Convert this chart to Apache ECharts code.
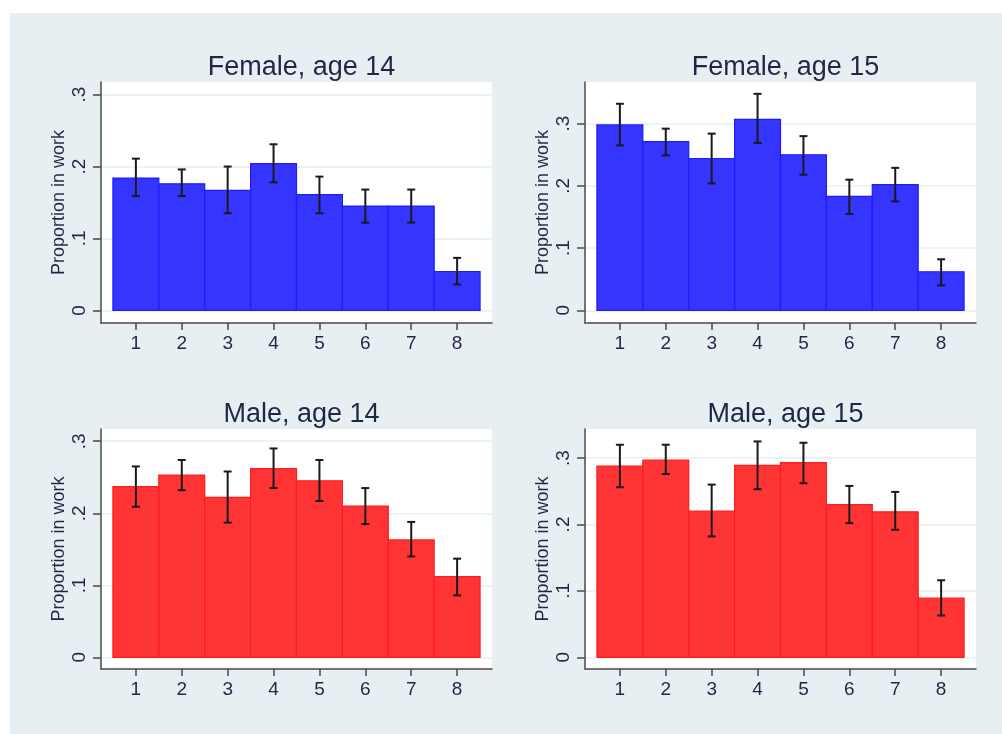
<!DOCTYPE html>
<html><head><meta charset="utf-8">
<script src="https://cdn.jsdelivr.net/npm/echarts@6/dist/echarts.min.js"></script>
<style>html,body{margin:0;padding:0;background:#fff}#c{width:1002px;height:734px}</style>
</head><body><div id="c"></div>
<script>
// ---- data ----
const categories = [1, 2, 3, 4, 5, 6, 7, 8];
const panelTitles = ['Female, age 14', 'Female, age 15', 'Male, age 14', 'Male, age 15'];
const yTickValues = [0, 0.1, 0.2, 0.3];
const yTickLabels = ['0', '.1', '.2', '.3'];
const yAxisName = 'Proportion in work';

const female14 = [0.184, 0.176, 0.167, 0.204, 0.161, 0.145, 0.145, 0.054];
const female14Hi = [0.211, 0.196, 0.200, 0.231, 0.186, 0.168, 0.168, 0.073];
const female14Lo = [0.159, 0.159, 0.135, 0.178, 0.135, 0.122, 0.122, 0.036];

const female15 = [0.298, 0.271, 0.244, 0.307, 0.250, 0.183, 0.202, 0.062];
const female15Hi = [0.332, 0.292, 0.284, 0.348, 0.280, 0.210, 0.229, 0.082];
const female15Lo = [0.265, 0.249, 0.204, 0.269, 0.218, 0.155, 0.175, 0.040];

const male14 = [0.237, 0.253, 0.222, 0.262, 0.245, 0.210, 0.163, 0.112];
const male14Hi = [0.265, 0.274, 0.258, 0.290, 0.274, 0.235, 0.188, 0.137];
const male14Lo = [0.209, 0.232, 0.187, 0.235, 0.217, 0.185, 0.140, 0.086];

const male15 = [0.288, 0.297, 0.220, 0.289, 0.293, 0.230, 0.219, 0.089];
const male15Hi = [0.320, 0.320, 0.260, 0.325, 0.323, 0.258, 0.249, 0.116];
const male15Lo = [0.256, 0.276, 0.182, 0.253, 0.262, 0.202, 0.192, 0.063];

// ---- layout / style ----
const panels = [
  {vals: female14, hi: female14Hi, lo: female14Lo, color: '#3535ff', edge: '#1c1cff', grid: {left: 101, top: 82, width: 391, height: 241}, ymin: -0.0176, ymax: 0.3176},
  {vals: female15, hi: female15Hi, lo: female15Lo, color: '#3535ff', edge: '#1c1cff', grid: {left: 585, top: 82, width: 391, height: 241}, ymin: -0.0204, ymax: 0.367},
  {vals: male14, hi: male14Hi, lo: male14Lo, color: '#ff3535', edge: '#ff1c1c', grid: {left: 101, top: 429, width: 391, height: 240}, ymin: -0.0162, ymax: 0.317},
  {vals: male15, hi: male15Hi, lo: male15Lo, color: '#ff3535', edge: '#ff1c1c', grid: {left: 585, top: 429, width: 391, height: 240}, ymin: -0.0176, ymax: 0.3437}
];
const FONT = '"Liberation Sans", Arial, sans-serif';
const axisColor = '#4a4a4a';
const textColor = '#1e2846';

const option = {
  animation: false,
  backgroundColor: '#ffffff',
  graphic: [{type: 'rect', z: -10, shape: {x: 10, y: 13, width: 992, height: 721}, style: {fill: '#e8eff2'}, silent: true}],
  title: [], grid: [], xAxis: [], yAxis: [], series: []
};

panels.forEach((p, i) => {
  option.title.push({
    text: panelTitles[i], left: p.grid.left + p.grid.width / 2, textAlign: 'center',
    top: p.grid.top - 33,
    textStyle: {fontFamily: FONT, fontSize: 27, fontWeight: 'normal', color: textColor}
  });
  option.grid.push(Object.assign({show: true, backgroundColor: '#ffffff', borderWidth: 0}, p.grid));
  option.xAxis.push({
    type: 'value', gridIndex: i, min: 0.24, max: 8.76,
    axisLine: {show: true, onZero: false, lineStyle: {color: axisColor, width: 1.5}},
    axisTick: {show: true, length: 7, customValues: categories, lineStyle: {color: axisColor, width: 1.5}},
    axisLabel: {customValues: categories, margin: 11, fontFamily: FONT, fontSize: 19, color: textColor},
    splitLine: {show: false}
  });
  option.yAxis.push({
    type: 'value', gridIndex: i, min: p.ymin, max: p.ymax,
    name: yAxisName, nameLocation: 'middle', nameGap: 33,
    nameTextStyle: {fontFamily: FONT, fontSize: 18, color: textColor},
    axisLine: {show: true, onZero: false, lineStyle: {color: axisColor, width: 1.5}},
    axisTick: {show: true, length: 8, customValues: yTickValues, lineStyle: {color: axisColor, width: 1.5}},
    axisLabel: {customValues: yTickValues, rotate: 90, margin: 12, fontFamily: FONT, fontSize: 19, color: textColor,
      formatter: v => { const k = yTickValues.findIndex(t => Math.abs(t - v) < 1e-9); return k >= 0 ? yTickLabels[k] : ''; }},
    splitLine: {show: true, lineStyle: {color: '#e8f0f2', width: 1.5}}
  });
  // bars
  option.series.push({
    type: 'custom', xAxisIndex: i, yAxisIndex: i,
    data: categories.map((c, k) => [c, p.vals[k]]),
    renderItem: (params, api) => {
      const x = api.value(0), v = api.value(1);
      const a = api.coord([x - 0.5, v]);
      const b = api.coord([x + 0.5, 0]);
      return {type: 'rect', shape: {x: a[0], y: a[1], width: b[0] - a[0], height: b[1] - a[1]},
        style: {fill: p.color, stroke: p.edge, lineWidth: 1.2}};
    }
  });
  // error bars
  option.series.push({
    type: 'custom', xAxisIndex: i, yAxisIndex: i, z: 5,
    data: categories.map((c, k) => [c, p.lo[k], p.hi[k]]),
    renderItem: (params, api) => {
      const x = api.value(0);
      const lo = api.coord([x, api.value(1)]);
      const hi = api.coord([x, api.value(2)]);
      const w = 4;
      const st = {stroke: '#1a1a1a', lineWidth: 2};
      return {type: 'group', children: [
        {type: 'line', shape: {x1: lo[0], y1: lo[1], x2: hi[0], y2: hi[1]}, style: st},
        {type: 'line', shape: {x1: lo[0] - w, y1: lo[1], x2: lo[0] + w, y2: lo[1]}, style: st},
        {type: 'line', shape: {x1: hi[0] - w, y1: hi[1], x2: hi[0] + w, y2: hi[1]}, style: st}
      ]};
    }
  });
});

const chart = echarts.init(document.getElementById('c'), null, {renderer: 'canvas'});
chart.setOption(option);
</script>
</body></html>
